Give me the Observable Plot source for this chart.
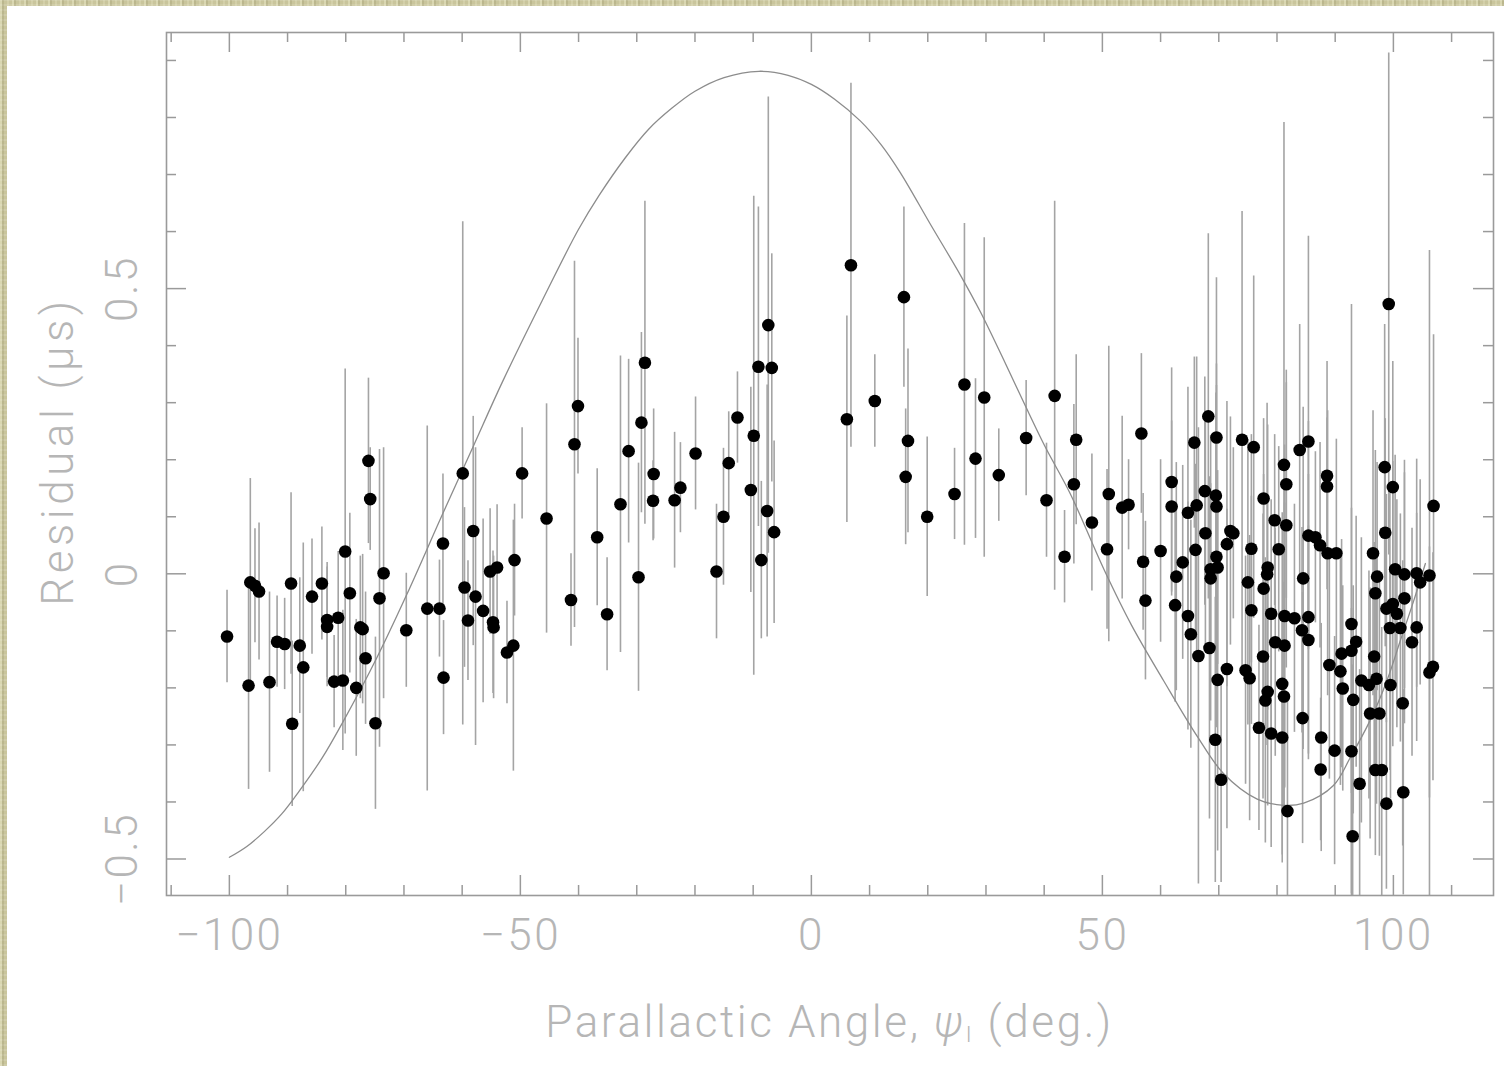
<!DOCTYPE html>
<html><head><meta charset="utf-8">
<script src="https://cdn.jsdelivr.net/npm/d3@7"></script>
<script src="https://cdn.jsdelivr.net/npm/@observablehq/plot@0.6"></script>
<style>
html,body{margin:0;padding:0;width:1504px;height:1066px;overflow:hidden;}
body{background-color:#c9c59c;
background-image:
 repeating-linear-gradient(90deg, rgba(255,255,225,0.30) 0px, rgba(255,255,225,0.30) 2px, rgba(100,95,50,0.14) 2px, rgba(100,95,50,0.14) 4px, transparent 4px, transparent 7px, rgba(255,255,225,0.18) 7px, rgba(255,255,225,0.18) 9px, transparent 9px, transparent 12px),
 repeating-linear-gradient(0deg, rgba(255,255,255,0.12) 0px, rgba(255,255,255,0.12) 2px, transparent 2px, transparent 5px);}
#panel{position:absolute;left:7px;top:6px;width:1497px;height:1060px;background:#fff;}
#panel svg{display:block;}
</style></head><body><div id="panel"></div>
<script>
// ---- data ----
const angle = [-100.4,-96.7,-96.4,-95.6,-94.9,-93.1,-91.8,-90.5,-89.4,-89.2,-87.9,-87.3,-85.8,-84.1,-83.2,-83.2,-82.0,-80.5,-81.3,-80.1,-79.3,-78.2,-77.5,-77.1,-76.6,-76.1,-75.8,-74.9,-74.2,-73.5,-69.6,-66.0,-63.9,-63.3,-63.2,-59.9,-59.6,-59.0,-58.1,-57.7,-56.4,-55.2,-54.0,-54.7,-54.6,-52.3,-51.2,-51.0,-49.7,-45.5,-41.3,-40.7,-40.1,-36.8,-35.1,-32.8,-31.4,-29.7,-29.2,-28.6,-27.1,-27.2,-23.5,-22.5,-19.9,-16.3,-15.1,-14.2,-12.7,-10.4,-9.9,-9.1,-7.4,-6.8,-7.6,-8.6,-6.4,6.1,6.8,10.9,15.9,16.6,16.2,19.9,24.6,26.3,28.2,29.7,32.2,36.9,40.4,41.8,43.5,45.5,45.1,48.2,51.1,50.8,53.4,54.5,56.7,57.0,57.4,60.0,61.9,61.9,64.7,66.2,65.8,68.2,69.6,67.6,69.5,69.6,67.7,66.0,72.0,72.5,71.4,69.6,74.0,76.0,77.7,79.6,81.2,81.6,81.6,75.6,80.3,83.9,85.4,85.4,62.7,62.5,63.8,64.7,65.2,66.5,68.4,68.6,68.6,69.8,71.4,69.8,69.4,70.4,75.0,75.6,74.6,75.3,78.4,78.3,77.7,79.0,77.6,78.4,78.0,76.9,79.0,80.9,81.8,81.3,79.7,81.3,80.9,81.2,84.5,83.0,84.3,85.4,84.4,88.6,88.6,86.6,87.4,88.7,90.2,99.2,98.5,99.9,98.6,96.5,106.9,85.4,87.6,87.5,89.0,89.9,90.9,91.3,91.1,92.8,92.8,93.6,93.1,92.8,94.2,93.0,94.5,95.8,97.1,96.7,96.0,97.6,96.9,98.0,98.8,97.2,96.9,98.8,99.9,100.6,99.4,101.2,99.5,100.3,101.9,101.9,101.6,101.7,104.0,104.6,104.0,103.2,106.2,106.8,106.2];
const residual = [-0.110,-0.196,-0.015,-0.021,-0.031,-0.190,-0.119,-0.123,-0.017,-0.263,-0.126,-0.164,-0.040,-0.017,-0.081,-0.093,-0.189,-0.187,-0.077,0.039,-0.034,-0.200,-0.094,-0.097,-0.148,0.198,0.131,-0.262,-0.043,0.001,-0.099,-0.061,-0.061,0.053,-0.182,0.176,-0.024,-0.082,0.075,-0.040,-0.065,0.004,0.011,-0.085,-0.094,-0.138,-0.126,0.024,0.176,0.097,-0.046,0.227,0.294,0.064,-0.071,0.122,0.215,-0.006,0.265,0.370,0.175,0.128,0.129,0.151,0.211,0.004,0.100,0.194,0.274,0.147,0.242,0.363,0.436,0.361,0.110,0.024,0.073,0.271,0.541,0.303,0.485,0.233,0.170,0.100,0.140,0.332,0.202,0.309,0.173,0.238,0.129,0.312,0.030,0.235,0.157,0.090,0.140,0.043,0.116,0.121,0.246,0.021,-0.047,0.040,0.161,0.118,0.107,0.120,0.230,0.276,0.239,0.145,0.137,0.118,0.071,0.042,0.075,0.071,0.052,0.030,0.235,0.222,0.132,0.094,0.191,0.157,0.085,0.044,0.043,0.217,0.232,0.067,-0.005,-0.055,0.020,-0.074,-0.106,-0.144,-0.130,0.008,-0.008,0.011,-0.167,-0.186,-0.291,-0.361,-0.015,-0.064,-0.169,-0.183,0.011,-0.001,-0.026,-0.070,-0.145,-0.207,-0.222,-0.270,-0.280,-0.287,-0.416,-0.074,-0.120,-0.126,-0.193,-0.215,-0.008,-0.078,-0.099,-0.076,-0.253,0.172,0.153,0.064,0.050,0.036,0.036,0.473,0.187,0.152,0.072,0.036,0.119,-0.116,-0.287,-0.343,-0.160,-0.310,-0.171,-0.201,-0.140,-0.088,-0.135,-0.119,-0.221,-0.311,-0.368,-0.460,-0.187,-0.195,-0.184,-0.145,-0.245,-0.245,-0.344,-0.344,-0.403,-0.005,-0.034,-0.061,-0.053,-0.070,-0.095,-0.095,-0.195,0.008,-0.001,-0.043,-0.227,-0.383,0.001,-0.015,-0.094,-0.120,-0.003,-0.163,-0.173];
const sigma = [0.081,0.182,0.182,0.100,0.120,0.158,0.080,0.080,0.159,0.145,0.119,0.218,0.101,0.099,0.101,0.105,0.081,0.123,0.116,0.320,0.140,0.120,0.125,0.131,0.116,0.145,0.090,0.151,0.261,0.220,0.100,0.320,0.085,0.122,0.100,0.441,0.140,0.105,0.201,0.261,0.161,0.110,0.110,0.125,0.125,0.090,0.220,0.098,0.080,0.201,0.081,0.321,0.119,0.120,0.099,0.260,0.161,0.200,0.158,0.283,0.114,0.070,0.119,0.079,0.099,0.118,0.120,0.090,0.080,0.180,0.420,0.280,0.400,0.200,0.221,0.138,0.160,0.181,0.319,0.081,0.158,0.161,0.119,0.140,0.080,0.282,0.140,0.280,0.081,0.101,0.100,0.341,0.081,0.149,0.140,0.120,0.259,0.140,0.160,0.079,0.140,0.120,0.139,0.160,0.200,0.150,0.220,0.260,0.150,0.320,0.280,0.200,0.180,0.250,0.200,0.150,0.200,0.150,0.250,0.300,0.400,0.300,0.140,0.150,0.600,0.200,0.250,0.200,0.180,0.220,0.360,0.200,0.200,0.170,0.170,0.200,0.200,0.400,0.300,0.150,0.250,0.170,0.280,0.300,0.250,0.180,0.250,0.200,0.200,0.250,0.250,0.300,0.200,0.200,0.250,0.200,0.250,0.180,0.200,0.220,0.200,0.300,0.200,0.250,0.300,0.200,0.300,0.200,0.180,0.250,0.220,0.200,0.120,0.150,0.180,0.250,0.200,0.440,0.250,0.220,0.200,0.250,0.300,0.200,0.200,0.125,0.200,0.200,0.200,0.180,0.200,0.560,0.250,0.220,0.200,0.250,0.200,0.300,0.250,0.200,0.220,0.200,0.220,0.250,0.150,0.250,0.150,0.200,0.250,0.200,0.250,0.200,0.250,0.200,0.200,0.200,0.200,0.220,0.250,0.180,0.200,0.180,0.200,0.200,0.570,0.200,0.220];

// model curve
const curveAngle = [-100,-97,-94,-91,-88,-84,-80.5,-74.7,-69.5,-63.4,-58.2,-53.1,-46.2,-40,-36.5,-32,-28,-24,-20,-15,-9,-4,0,4,8.4,12,15.3,20.5,25.7,29.1,33,36.6,40.1,44.5,50.3,55,60.5,66.3,70.8,76.6,81.2,84.6,89.7,92.6,96.0,98.9,101.2,103.5,105.5];
const curveResidual = [-0.497,-0.478,-0.452,-0.421,-0.381,-0.322,-0.260,-0.148,-0.036,0.104,0.221,0.336,0.480,0.604,0.663,0.729,0.779,0.816,0.846,0.870,0.881,0.874,0.858,0.832,0.794,0.752,0.703,0.612,0.522,0.458,0.376,0.298,0.224,0.140,0.007,-0.090,-0.187,-0.285,-0.350,-0.395,-0.406,-0.402,-0.371,-0.322,-0.257,-0.187,-0.117,-0.047,0.018];

// ticks
const xMajorTicks = [-100,-50,0,50,100];
const xTickLabels = ["\u2212100","\u221250","0","50","100"];
const xMinorTicks = [-110,-90,-80,-70,-60,-40,-30,-20,-10,10,20,30,40,60,70,80,90,110];
const yMajorTicks = [-0.5,0,0.5];
const yTickLabels = ["\u22120.5","0","0.5"];
const yMinorTicks = [-0.4,-0.3,-0.2,-0.1,0.1,0.2,0.3,0.4,0.6,0.7,0.8,0.9];
const xTitle = ["Parallactic Angle, ", "\u03C8", "I", " (deg.)"];
const yTitle = "Residual (\u03BCs)";

// ---- build ----
const points = angle.map((a,i)=>({angle:a, residual:residual[i], sigma:sigma[i]}));
const curve = curveAngle.map((a,i)=>({angle:a, residual:curveResidual[i]}));

const W=1497, H=1060, mL=159, mR=11, mT=26, mB=171;
const innerH = H-mT-mB, innerW = W-mL-mR;
const FONT = "Roboto, 'Liberation Sans', sans-serif";
const AX = "#9a9a9a", LBL = "#b6b6b6";
const MAJ = 20, MIN = 10;
const labelStyle = {fill:LBL, fontSize:44, fontWeight:300, lineAnchor:"middle", textAnchor:"middle"};

const plot = Plot.plot({
  width:W, height:H, marginLeft:mL, marginRight:mR, marginTop:mT, marginBottom:mB,
  style:{background:"transparent", fontFamily:FONT},
  x:{domain:[-110.8,117.2], axis:null},
  y:{domain:[-0.564,0.949], axis:null},
  marks:[
    Plot.ruleX(points, {x:"angle", y1:d=>d.residual-d.sigma, y2:d=>d.residual+d.sigma, stroke:"#a4a4a4", strokeWidth:1.6, clip:true}),
    Plot.line(curve, {x:"angle", y:"residual", curve:"catmull-rom", stroke:"#8c8c8c", strokeWidth:1.3}),
    Plot.dot(points, {x:"angle", y:"residual", r:6.3, fill:"#000", stroke:null}),
    Plot.frame({stroke:AX, strokeWidth:1.6}),
    // x ticks (bottom & top, inward)
    Plot.ruleX(xMajorTicks, {x:d=>d, insetTop:innerH-MAJ, stroke:AX, strokeWidth:1.5}),
    Plot.ruleX(xMajorTicks, {x:d=>d, insetBottom:innerH-MAJ, stroke:AX, strokeWidth:1.5}),
    Plot.ruleX(xMinorTicks, {x:d=>d, insetTop:innerH-MIN, stroke:AX, strokeWidth:1.5}),
    Plot.ruleX(xMinorTicks, {x:d=>d, insetBottom:innerH-MIN, stroke:AX, strokeWidth:1.5}),
    // y ticks (left & right, inward)
    Plot.ruleY(yMajorTicks, {y:d=>d, insetRight:innerW-MAJ, stroke:AX, strokeWidth:1.5}),
    Plot.ruleY(yMajorTicks, {y:d=>d, insetLeft:innerW-MAJ, stroke:AX, strokeWidth:1.5}),
    Plot.ruleY(yMinorTicks, {y:d=>d, insetRight:innerW-MIN, stroke:AX, strokeWidth:1.5}),
    Plot.ruleY(yMinorTicks, {y:d=>d, insetLeft:innerW-MIN, stroke:AX, strokeWidth:1.5}),
    // tick labels
    Plot.text(xMajorTicks, {x:d=>d, frameAnchor:"bottom", dy:40, text:(d,i)=>xTickLabels[i], ...labelStyle}),
    Plot.text(yMajorTicks, {y:d=>d, frameAnchor:"left", dx:-44, rotate:-90, text:(d,i)=>yTickLabels[i], ...labelStyle}),
    // y title
    Plot.text([yTitle], {frameAnchor:"left", dx:-108, dy:-13, rotate:-90, text:d=>d, ...labelStyle})
  ]
});
document.getElementById("panel").appendChild(plot);

// letter spacing to mimic the wide plotter font
d3.select(plot).selectAll("g[aria-label=text] text").style("letter-spacing","2.5px");
d3.select(plot).selectAll("g[aria-label=text]").filter((d,i,n)=>i===2).selectAll("text").style("letter-spacing","4.5px");

// x title with subscript
const svg = d3.select(plot);
const t = svg.append("text")
  .attr("x", mL + innerW/2)
  .attr("y", H - mB + 127)
  .attr("text-anchor","middle")
  .attr("dominant-baseline","central")
  .attr("fill", LBL)
  .attr("font-family", FONT)
  .attr("font-size", 44)
  .attr("font-weight", 300)
  .style("letter-spacing","2.6px");
t.append("tspan").text(xTitle[0]);
t.append("tspan").attr("font-style","italic").text(xTitle[1]);
t.append("tspan").attr("font-size",22).attr("dy",12).text(xTitle[2]);
t.append("tspan").attr("dy",-12).text(xTitle[3]);
</script></body></html>
